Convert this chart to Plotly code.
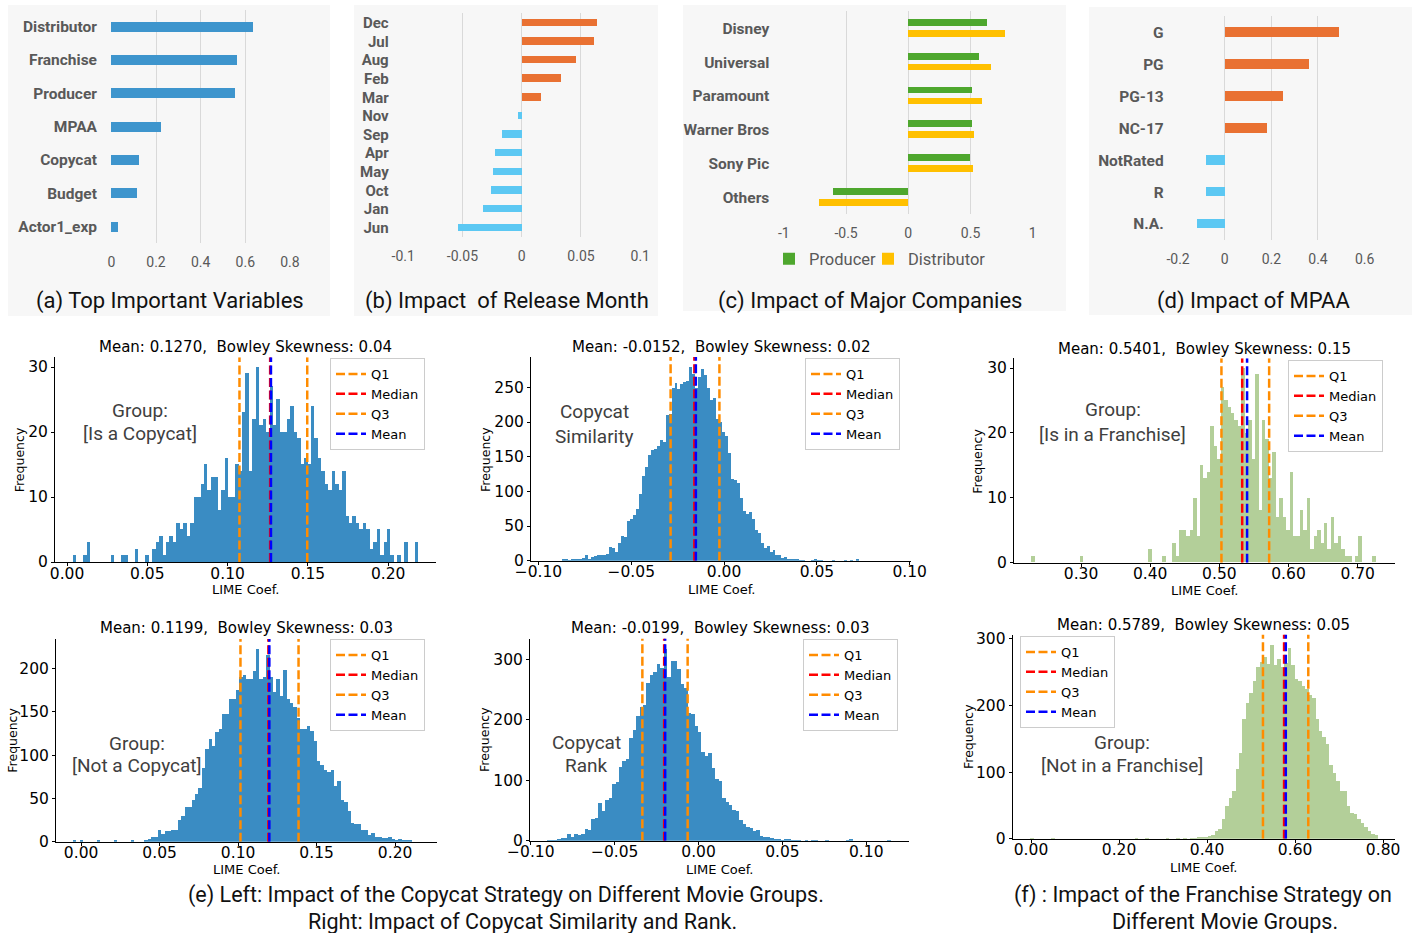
import plotly.graph_objects as go

W, H = 1418, 933

# ---------------- data: top panels ----------------
var_names = ["Distributor", "Franchise", "Producer", "MPAA", "Copycat", "Budget", "Actor1_exp"]
var_importance = [0.633, 0.561, 0.555, 0.223, 0.123, 0.117, 0.028]
a_ticks = [0, 0.2, 0.4, 0.6, 0.8]
a_ticklabels = ["0", "0.2", "0.4", "0.6", "0.8"]

months = ["Dec", "Jul", "Aug", "Feb", "Mar", "Nov", "Sep", "Apr", "May", "Oct", "Jan", "Jun"]
month_impact = [0.0633, 0.0611, 0.0453, 0.0328, 0.0161, -0.0036, -0.0167, -0.0230,
                -0.0244, -0.0258, -0.0333, -0.0536]
b_ticks = [-0.1, -0.05, 0, 0.05, 0.1]
b_ticklabels = ["-0.1", "-0.05", "0", "0.05", "0.1"]

companies = ["Disney", "Universal", "Paramount", "Warner Bros", "Sony Pic", "Others"]
producer_impact = [0.635, 0.568, 0.517, 0.512, 0.496, -0.600]
distributor_impact = [0.779, 0.664, 0.595, 0.528, 0.525, -0.712]
c_ticks = [-1, -0.5, 0, 0.5, 1]
c_ticklabels = ["-1", "-0.5", "0", "0.5", "1"]

mpaa_levels = ["G", "PG", "PG-13", "NC-17", "NotRated", "R", "N.A."]
mpaa_impact = [0.490, 0.361, 0.249, 0.181, -0.083, -0.083, -0.121]
d_ticks = [-0.2, 0, 0.2, 0.4, 0.6]
d_ticklabels = ["-0.2", "0", "0.2", "0.4", "0.6"]

# ---------------- data: histograms (bin counts) ----------------
copycat_yes_start, copycat_yes_width = 0.0036, 0.00215
copycat_yes_counts = [
    1, 0, 0, 1, 3, 0, 0, 0, 0, 0, 0, 1, 0, 0, 1, 1, 0, 0, 2, 0,
    0, 1, 0, 2, 3, 4, 1, 3, 4, 3, 6, 5, 6, 4, 6,
    10, 10, 12, 15, 11, 13, 13, 8, 11, 16, 10, 10, 15, 14, 23, 29, 14, 22, 30, 21,
    22, 20, 27, 21, 25, 20, 20, 22, 24, 20, 19, 15, 16, 15, 24, 19, 16, 14, 12, 11,
    14, 12, 11, 14, 7, 6, 7, 6, 5, 6, 5, 2, 3, 5, 1, 3, 5, 1, 0, 1, 0, 3, 0, 0, 3]
copycat_yes_stats = [0.1074, 0.1265, 0.1496, 0.1270]  # Q1, median, Q3, mean

similarity_start, similarity_width = -0.0875, 0.0016
similarity_counts = [
    2, 2, 1, 3, 2, 3, 2, 4, 9, 3,
    5, 7, 8, 8, 8, 10, 20, 19, 13, 25,
    36, 35, 58, 60, 66, 75, 96, 122, 136, 152,
    160, 162, 165, 174, 172, 210, 212, 250, 256, 248,
    255, 258, 260, 280, 270, 250, 265, 276, 268, 250,
    232, 235, 205, 200, 186, 180, 156, 118, 116, 112,
    91, 72, 68, 70, 60, 45, 40, 26, 18, 22,
    12, 16, 9, 8, 4, 5, 3, 3, 3, 2,
    1, 1, 0, 0, 1, 2, 1, 1, 0, 0,
    0, 1, 0, 0, 0, 1, 0, 1, 0, 2]
similarity_stats = [-0.0288, -0.0160, -0.0025, -0.0152]

franchise_yes_start, franchise_yes_width = 0.228, 0.00498
franchise_yes_counts = [
    1, 0, 0, 0, 0, 0, 0, 0, 0, 0, 0, 0, 0, 0, 1, 0, 0, 0, 0, 0,
    0, 0, 0, 0, 0, 0, 0, 0, 0, 0, 0, 0, 0, 0, 2, 0, 0, 0, 1, 0, 0,
    3, 1, 5, 5, 4, 5, 10, 4, 15, 13, 14, 21, 18, 16, 27, 25, 24, 23, 22, 21,
    30, 20, 22, 16, 29, 8, 22, 19, 13, 17, 7, 10, 7, 5, 14, 4, 4, 8, 5, 10,
    2, 4, 5, 3, 6, 2, 7, 3, 4, 2, 1, 1, 0, 1, 4, 0, 0, 0, 1]
franchise_yes_stats = [0.5030, 0.5330, 0.5720, 0.5401]

copycat_no_start, copycat_no_width = -0.0052, 0.00216
copycat_no_counts = [
    1, 0, 1, 0, 0, 0, 0, 1, 0, 0, 0, 0, 2, 0, 0, 0, 0, 1, 0, 0,
    0, 1, 3, 5, 6, 13, 9, 12, 12, 13, 14, 25, 30, 40, 40, 48, 55,
    62, 85, 107, 118, 111, 127, 130, 147, 147, 165, 165, 175, 190, 193, 188, 188, 197, 222,
    188, 190, 215, 190, 173, 188, 168, 198, 165, 160, 155, 143, 130, 130, 133, 128, 116,
    93, 88, 83, 80, 83, 64, 70, 48, 46, 35, 22, 21, 20, 14, 13, 8, 10, 6, 6, 4, 4, 5,
    3, 2, 3, 2, 1, 1]
copycat_no_stats = [0.1015, 0.1193, 0.1385, 0.1199]

rank_start, rank_width = -0.0905, 0.00205
rank_counts = [
    1, 1, 1, 3, 5, 5, 11, 7, 11, 10,
    12, 20, 18, 37, 38, 63, 50, 68, 72, 95,
    98, 122, 132, 135, 170, 183, 207, 222, 225, 262,
    275, 280, 292, 286, 318, 272, 298, 298, 285, 260,
    253, 212, 210, 190, 181, 148, 140, 145, 120, 103,
    100, 72, 64, 60, 52, 50, 35, 28, 23, 22,
    16, 18, 9, 7, 7, 5, 3, 3, 2, 3,
    3, 1, 2, 1, 0, 1, 0, 1, 1, 0,
    0, 1, 0, 0, 0, 0, 0, 1, 3, 0,
    0, 0, 0, 0, 0, 0, 0, 0, 0, 1]
rank_stats = [-0.0335, -0.0205, -0.0065, -0.0199]

franchise_no_start, franchise_no_width = -0.0021, 0.0079
franchise_no_counts = [
    1, 0, 0, 0, 0, 0, 1, 0, 0, 0, 0, 0, 0, 0, 0, 0, 0, 0, 0, 0,
    0, 0, 0, 0, 0, 0, 0, 0, 0, 0, 1, 0, 0, 1, 0, 0, 0, 0, 0, 1,
    0, 0, 1, 0, 2, 0, 1, 2, 3, 4, 4,
    5, 7, 12, 15, 30, 50, 62, 72, 105, 130,
    180, 205, 220, 238, 258, 266, 273, 263, 292, 262,
    270, 258, 265, 287, 262, 240, 238, 230, 225, 217,
    212, 180, 163, 153, 143, 112, 100, 88, 72, 72,
    50, 40, 38, 30, 25, 18, 12, 8, 6]
franchise_no_stats = [0.5270, 0.5750, 0.6300, 0.5789]

ticks_copycat = [0.0, 0.05, 0.10, 0.15, 0.20]
ticklabels_copycat = ["0.00", "0.05", "0.10", "0.15", "0.20"]
ticks_centered = [-0.10, -0.05, 0.0, 0.05, 0.10]
ticklabels_centered = ["\u22120.10", "\u22120.05", "0.00", "0.05", "0.10"]
ticks_fr_yes = [0.30, 0.40, 0.50, 0.60, 0.70]
ticklabels_fr_yes = ["0.30", "0.40", "0.50", "0.60", "0.70"]
ticks_fr_no = [0.0, 0.2, 0.4, 0.6, 0.8]
ticklabels_fr_no = ["0.00", "0.20", "0.40", "0.60", "0.80"]

stat_names = ["Q1", "Median", "Q3", "Mean"]

# ---------------- styling helpers ----------------
BLUE_A = "#3E95CD"
ORANGE = "#E97132"
LIGHTBLUE = "#5CC8F3"
GREEN = "#4EA72E"
YELLOW = "#FFC000"
HIST_BLUE = "#3A8CC3"
HIST_GREEN = "#B3CF99"
GRAY_TXT = "#595959"
GRID = "#D9D9D9"
stat_colors = ["#FF8C00", "#FF0000", "#FF8C00", "#0000FF"]


def xd(l, r):
    return [l / W, r / W]


def yd(t, b):
    return [1 - b / H, 1 - t / H]


def PX(x):
    return x / W


def PY(y):
    return 1 - y / H


fig = go.Figure()
layout = dict(
    template="none",
    width=W, height=H, margin=dict(l=0, r=0, t=0, b=0, pad=0, autoexpand=False),
    paper_bgcolor="white", plot_bgcolor="rgba(0,0,0,0)",
    barmode="overlay", bargap=0, showlegend=True,
    font=dict(family="DejaVu Sans", color="black"),
)
annotations = []
shapes = []

# ---------------- top panels ----------------
panels = [(8, 330, 5, 316), (354, 658, 5, 316), (683, 1066, 5, 311), (1089, 1412, 7, 315)]
for (l, r, t, b) in panels:
    shapes.append(dict(type="rect", xref="paper", yref="paper", x0=PX(l), x1=PX(r),
                       y0=PY(b), y1=PY(t), fillcolor="#F7F7F7", line=dict(width=0),
                       layer="below"))

top_specs = [
    # id, x px domain, y px domain, x range, ticks, labels, categories, label font size
    (1, (111, 290.3), (10, 243.3), [0, 0.8], a_ticks, a_ticklabels, var_names, 15.5),
    (2, (402.7, 640.7), (13.4, 237), [-0.1, 0.1], b_ticks, b_ticklabels, months, 15),
    (3, (783.3, 1033.3), (11.4, 214.2), [-1, 1], c_ticks, c_ticklabels, companies, 15.5),
    (4, (1177.7, 1365), (16.4, 240), [-0.2, 0.6], d_ticks, d_ticklabels, mpaa_levels, 15.5),
]
for (n, xdom, ydom, xr, tv, tt, cats, fs) in top_specs:
    sfx = "" if n == 1 else str(n)
    span = xr[1] - xr[0]
    layout["xaxis" + sfx] = dict(
        domain=xd(*xdom), range=[xr[0] - span * 0.002, xr[1] + span * 0.002],
        tickvals=tv, ticktext=tt, showgrid=True, gridcolor=GRID, gridwidth=1,
        zeroline=False, showline=False, ticks="", anchor="y" + sfx, fixedrange=True,
        automargin=False,
        tickfont=dict(family="Roboto", size=14, color=GRAY_TXT), ticklabelstandoff=9)
    layout["yaxis" + sfx] = dict(
        domain=yd(*ydom), type="category", categoryorder="array", categoryarray=cats,
        tickmode="array", tickvals=cats, ticktext=cats,
        range=[len(cats) - 0.5, -0.5], showgrid=False, zeroline=False, showline=False,
        ticks="", anchor="x" + sfx, fixedrange=True, ticklabelstandoff=13, automargin=False,
        tickfont=dict(family="Roboto", size=fs, color=GRAY_TXT, weight="bold"))

fig.add_trace(go.Bar(y=var_names, x=var_importance, orientation="h", width=0.3,
                     marker=dict(color=BLUE_A, line=dict(width=0)),
                     xaxis="x", yaxis="y", showlegend=False, hoverinfo="skip"))
fig.add_trace(go.Bar(y=months, x=month_impact, orientation="h", width=0.4,
                     marker=dict(color=[ORANGE if v > 0 else LIGHTBLUE for v in month_impact],
                                 line=dict(width=0)),
                     xaxis="x2", yaxis="y2", showlegend=False, hoverinfo="skip"))
fig.add_trace(go.Bar(y=companies, x=producer_impact, orientation="h", width=0.2, offset=-0.265,
                     marker=dict(color=GREEN, line=dict(width=0)), name="Producer",
                     legend="legend", xaxis="x3", yaxis="y3", hoverinfo="skip"))
fig.add_trace(go.Bar(y=companies, x=distributor_impact, orientation="h", width=0.2, offset=0.06,
                     marker=dict(color=YELLOW, line=dict(width=0)), name="Distributor",
                     legend="legend8", xaxis="x3", yaxis="y3", hoverinfo="skip"))
fig.add_trace(go.Bar(y=mpaa_levels, x=mpaa_impact, orientation="h", width=0.3,
                     marker=dict(color=[ORANGE if v > 0 else LIGHTBLUE for v in mpaa_impact],
                                 line=dict(width=0)),
                     xaxis="x4", yaxis="y4", showlegend=False, hoverinfo="skip"))

for key, lx in (("legend", 769), ("legend8", 868)):
    layout[key] = dict(orientation="h", x=PX(lx), xanchor="left", y=PY(259),
                       yanchor="middle", bgcolor="rgba(0,0,0,0)", borderwidth=0,
                       font=dict(family="Roboto", size=16.5, color=GRAY_TXT),
                       itemwidth=30, traceorder="normal")

captions = [("(a) Top Important Variables", 170, 301, 22),
            ("(b) Impact \u00a0of Release Month", 506.7, 301, 22),
            ("(c) Impact of Major Companies", 870, 301, 22),
            ("(d) Impact of MPAA", 1253, 301, 22),
            ("(e) Left: Impact of the Copycat Strategy on Different Movie Groups.", 506, 895, 21.5),
            ("Right: Impact of Copycat Similarity and Rank.", 522, 921, 21.5),
            ("(f) : Impact of the Franchise Strategy on", 1203, 895, 21.5),
            ("Different Movie Groups.", 1225, 921, 21.5)]
for (txt, cx, cy, fs) in captions:
    annotations.append(dict(text=txt, x=PX(cx), y=PY(cy), xref="paper", yref="paper",
                            xanchor="center", yanchor="middle", showarrow=False,
                            font=dict(family="Roboto", size=fs, color="#111111")))

# ---------------- histograms ----------------
hists = [
    dict(counts=copycat_yes_counts, start=copycat_yes_start, width=copycat_yes_width,
         stats=copycat_yes_stats, color=HIST_BLUE, box=(55, 436, 357.25, 562),
         xr=[-0.0075, 0.2298], ymax=31.5, xt=ticks_copycat, xtl=ticklabels_copycat,
         yt=[0, 10, 20, 30], title="Mean: 0.1270,\u00a0 Bowley Skewness: 0.04", ty=347,
         group=["Group:", "[Is a Copycat]"], gpos=(140, 410, 433.3), freq=(19.3, 460),
         lime=589, leg=(330, 358)),
    dict(counts=similarity_counts, start=similarity_start, width=similarity_width,
         stats=similarity_stats, color=HIST_BLUE, box=(531, 911, 356.9, 560.7),
         xr=[-0.104, 0.1007], ymax=294, xt=ticks_centered, xtl=ticklabels_centered,
         yt=[0, 50, 100, 150, 200, 250], title="Mean: -0.0152,\u00a0 Bowley Skewness: 0.02",
         ty=347.3, group=["Copycat", "Similarity"], gpos=(594, 411.7, 436.7),
         freq=(485, 460), lime=589, leg=(805, 358)),
    dict(counts=franchise_yes_counts, start=franchise_yes_start, width=franchise_yes_width,
         stats=franchise_yes_stats, color=HIST_GREEN, box=(1014, 1395, 358.3, 562.7),
         xr=[0.203, 0.754], ymax=31.5, xt=ticks_fr_yes, xtl=ticklabels_fr_yes,
         yt=[0, 10, 20, 30], title="Mean: 0.5401,\u00a0 Bowley Skewness: 0.15", ty=349,
         group=["Group:", "[Is in a Franchise]"], gpos=(1112.7, 409, 434.3),
         freq=(978, 461.7), lime=590, leg=(1288, 360)),
    dict(counts=copycat_no_counts, start=copycat_no_start, width=copycat_no_width,
         stats=copycat_no_stats, color=HIST_BLUE, box=(56, 437, 639, 841.7),
         xr=[-0.016, 0.2267], ymax=234, xt=ticks_copycat, xtl=ticklabels_copycat,
         yt=[0, 50, 100, 150, 200], title="Mean: 0.1199,\u00a0 Bowley Skewness: 0.03",
         ty=628.3, group=["Group:", "[Not a Copycat]"], gpos=(136.7, 743.3, 765),
         freq=(11.7, 740), lime=869, leg=(330, 639)),
    dict(counts=rank_counts, start=rank_start, width=rank_width,
         stats=rank_stats, color=HIST_BLUE, box=(530, 909, 638.6, 840.7),
         xr=[-0.1005, 0.1255], ymax=334, xt=ticks_centered, xtl=ticklabels_centered,
         yt=[0, 100, 200, 300], title="Mean: -0.0199,\u00a0 Bowley Skewness: 0.03",
         ty=628.3, group=["Copycat", "Rank"], gpos=(586.7, 742.7, 765),
         freq=(484, 740), lime=869, leg=(803, 639)),
    dict(counts=franchise_no_counts, start=franchise_no_start, width=franchise_no_width,
         stats=franchise_no_stats, color=HIST_GREEN, box=(1012.7, 1395, 634.5, 838.7),
         xr=[-0.0416, 0.827], ymax=306.6, xt=ticks_fr_no, xtl=ticklabels_fr_no,
         yt=[0, 100, 200, 300], title="Mean: 0.5789,\u00a0 Bowley Skewness: 0.05",
         ty=625, group=["Group:", "[Not in a Franchise]"], gpos=(1121.7, 742.7, 765),
         freq=(968.3, 736.7), lime=867, leg=(1020, 636)),
]

for k, h in enumerate(hists):
    n = 5 + k
    xa, ya = "x%d" % n, "y%d" % n
    leg = "legend%d" % (k + 2)
    l, r, t, b = h["box"]
    layout["xaxis%d" % n] = dict(
        domain=xd(l, r), range=h["xr"], tickvals=h["xt"], ticktext=h["xtl"],
        ticks="outside", ticklen=3, tickwidth=1, tickcolor="black",
        showline=True, linecolor="black", linewidth=1, showgrid=False, zeroline=False,
        anchor=ya, fixedrange=True, automargin=False, ticklabelstandoff=-6,
        tickfont=dict(family="DejaVu Sans", size=15.5, color="black"))
    layout["yaxis%d" % n] = dict(
        domain=yd(t, b), range=[0, h["ymax"]], tickvals=h["yt"],
        ticks="outside", ticklen=3, tickwidth=1, tickcolor="black",
        showline=True, linecolor="black", linewidth=1, showgrid=False, zeroline=False,
        anchor=xa, fixedrange=True, automargin=False,
        tickfont=dict(family="DejaVu Sans", size=15.5, color="black"))
    centers = [h["start"] + (i + 0.5) * h["width"] for i in range(len(h["counts"]))]
    fig.add_trace(go.Bar(x=centers, y=h["counts"], width=h["width"],
                         marker=dict(color=h["color"], line=dict(width=0)),
                         xaxis=xa, yaxis=ya, showlegend=False, hoverinfo="skip"))
    for name, val, col in zip(stat_names, h["stats"], stat_colors):
        fig.add_trace(go.Scatter(x=[val, val], y=[0, h["ymax"]], mode="lines", name=name,
                                 line=dict(color=col, width=2.5, dash="9px,3.5px"),
                                 xaxis=xa, yaxis=ya, legend=leg, hoverinfo="skip"))
    layout[leg] = dict(x=PX(h["leg"][0]), y=PY(h["leg"][1]), xanchor="left", yanchor="top",
                       bgcolor="rgba(255,255,255,0.85)", bordercolor="#CCCCCC", borderwidth=1,
                       font=dict(family="DejaVu Sans", size=13, color="black"),
                       itemwidth=30, tracegroupgap=0, traceorder="normal")
    annotations.append(dict(text=h["title"], x=PX((l + r) / 2), y=PY(h["ty"]),
                            xref="paper", yref="paper", xanchor="center", yanchor="middle",
                            showarrow=False,
                            font=dict(family="DejaVu Sans", size=15, color="black")))
    annotations.append(dict(text="Frequency", x=PX(h["freq"][0]), y=PY(h["freq"][1]),
                            xref="paper", yref="paper", xanchor="center", yanchor="middle",
                            textangle=-90, showarrow=False,
                            font=dict(family="DejaVu Sans", size=12.5, color="black")))
    annotations.append(dict(text="LIME Coef.", x=PX((l + r) / 2), y=PY(h["lime"]),
                            xref="paper", yref="paper", xanchor="center", yanchor="middle",
                            showarrow=False,
                            font=dict(family="DejaVu Sans", size=13, color="black")))
    gx, gy1, gy2 = h["gpos"]
    for txt, gy in zip(h["group"], (gy1, gy2)):
        annotations.append(dict(text=txt, x=PX(gx), y=PY(gy), xref="paper", yref="paper",
                                xanchor="center", yanchor="middle", showarrow=False,
                                font=dict(family="Roboto", size=19, color="#404040")))

layout["annotations"] = annotations
layout["shapes"] = shapes
fig.update_layout(**layout)
fig.write_html("out.html", config={"displayModeBar": False},
               post_script="document.body.style.margin='0';document.body.style.padding='0';")
